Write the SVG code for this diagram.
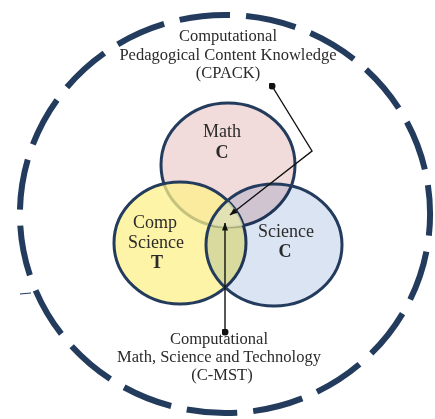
<svg xmlns="http://www.w3.org/2000/svg" width="435" height="419" viewBox="0 0 435 419">
<style>
.txt{font-family:"Liberation Serif","Times New Roman",serif;fill:#2b2b2b;text-anchor:middle}
.cap{font-size:16.5px}
.lbl{font-size:18px}
.b{font-weight:bold}
.set{stroke:#233b5c;stroke-width:3}
.conn{fill:none;stroke:#111;stroke-width:1.4}
</style>
<defs>
<marker id="arr" viewBox="0 0 8 6" refX="7.5" refY="3" markerWidth="8" markerHeight="6" markerUnits="userSpaceOnUse" orient="auto">
<path d="M0,0 L8,3 L0,6 Z" fill="#111"/>
</marker>
<marker id="dot" viewBox="0 0 8 8" refX="4" refY="4" markerWidth="7" markerHeight="7" markerUnits="userSpaceOnUse">
<circle cx="4" cy="4" r="4" fill="#111"/>
</marker>
<clipPath id="cm"><ellipse cx="228" cy="165" rx="67" ry="62"/></clipPath>
<clipPath id="cc"><ellipse cx="180" cy="243" rx="66" ry="61"/></clipPath>
</defs>
<rect width="435" height="419" fill="#fff"/>
<g id="outer">
<path d="M225 15 A205 199 0 1 1 225 413 A205 199 0 1 1 225 15 Z" pathLength="1000" fill="none" stroke="#233b5c" stroke-width="6" stroke-dasharray="40 12.63" stroke-dashoffset="36"/>
<path d="M20 294 L31 293" stroke="#233b5c" stroke-width="1.2" fill="none"/>
</g>
<g id="math">
<ellipse class="set" cx="228" cy="165" rx="67" ry="62" fill="#f2dcdb"/>
</g>
<g id="comp-science">
<ellipse cx="180" cy="243" rx="66" ry="61" fill="#fcf08a" fill-opacity="0.75" stroke="#233b5c" stroke-width="3"/>
</g>
<g id="science">
<ellipse cx="274" cy="245" rx="68" ry="61" fill="#dbe4f2" style="mix-blend-mode:multiply"/>
<g clip-path="url(#cm)"><g clip-path="url(#cc)"><ellipse cx="274" cy="245" rx="68" ry="61" fill="#e3e5bb" fill-opacity="0.8"/></g></g>
<ellipse class="set" cx="274" cy="245" rx="68" ry="61" fill="none"/>
</g>
<g id="math-label">
<text class="txt lbl" x="222" y="137">Math</text>
<text class="txt lbl b" x="222" y="158">C</text>
</g>
<g id="comp-label">
<text class="txt lbl" x="155" y="228">Comp</text>
<text class="txt lbl" x="156" y="248">Science</text>
<text class="txt lbl b" x="157" y="268">T</text>
</g>
<g id="science-label">
<text class="txt lbl" x="286" y="237">Science</text>
<text class="txt lbl b" x="285" y="257">C</text>
</g>
<g id="cpack">
<text class="txt cap" x="228" y="41">Computational</text>
<text class="txt cap" x="228" y="60">Pedagogical Content Knowledge</text>
<text class="txt cap" x="228" y="78">(CPACK)</text>
</g>
<g id="cmst">
<text class="txt cap" x="219" y="344">Computational</text>
<text class="txt cap" x="219" y="362">Math, Science and Technology</text>
<text class="txt cap" x="222" y="380">(C-MST)</text>
</g>
<g id="connectors">
<path class="conn" d="M272 86 L312 151 L230 215" marker-start="url(#dot)" marker-end="url(#arr)"/>
<path class="conn" d="M225 332 L225 223" marker-start="url(#dot)" marker-end="url(#arr)"/>
</g>
</svg>
